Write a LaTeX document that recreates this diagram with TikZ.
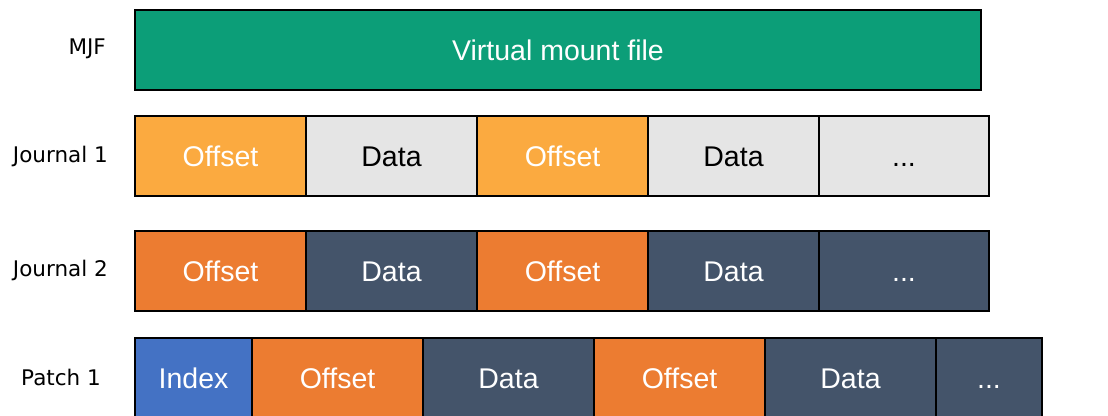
\documentclass[tikz,border=0pt]{standalone}
\usepackage{fontspec}
\setmainfont{Liberation Sans}
\newfontfamily\labelfont{DejaVu Sans}
\definecolor{mjfgreen}{HTML}{0C9E78}
\definecolor{lorange}{HTML}{FBAA40}
\definecolor{lgray}{HTML}{E5E5E5}
\definecolor{dorange}{HTML}{EC7C31}
\definecolor{slate}{HTML}{44546A}
\definecolor{iblue}{HTML}{4472C4}
\tikzset{
  cell/.style={draw=black, line width=2pt, anchor=north west, inner sep=0pt,
    minimum height=80pt, text height=20pt, text depth=0pt,
    font=\fontsize{28.5}{30}\selectfont},
  rowlabel/.style={anchor=east, inner sep=0pt, font=\labelfont\fontsize{21.5}{23}\selectfont},
  offA/.style={cell, fill=lorange, text=white},
  datA/.style={cell, fill=lgray, text=black},
  offB/.style={cell, fill=dorange, text=white},
  datB/.style={cell, fill=slate, text=white},
  idx/.style={cell, fill=iblue, text=white},
}
\begin{document}
\begin{tikzpicture}[x=1pt,y=-1pt]
\useasboundingbox (0,0) rectangle (1108,415);
% MJF
\node[cell, fill=mjfgreen, text=white, minimum width=846pt] (mjf) at (134,9) {Virtual mount file};
\node[rowlabel] (lmjf) at (106,49) {MJF};
% Journal 1
\node[offA, minimum width=171pt] (j1a) at (134,115) {Offset};
\node[datA, minimum width=171pt] (j1b) at (305,115) {Data};
\node[offA, minimum width=171pt] (j1c) at (476,115) {Offset};
\node[datA, minimum width=171pt] (j1d) at (647,115) {Data};
\node[datA, minimum width=170pt] (j1e) at (818,115) {...};
\node[rowlabel] (lj1) at (108,156) {Journal 1};
% Journal 2
\node[offB, minimum width=171pt] (j2a) at (134,230) {Offset};
\node[datB, minimum width=171pt] (j2b) at (305,230) {Data};
\node[offB, minimum width=171pt] (j2c) at (476,230) {Offset};
\node[datB, minimum width=171pt] (j2d) at (647,230) {Data};
\node[datB, minimum width=170pt] (j2e) at (818,230) {...};
\node[rowlabel] (lj2) at (108,270) {Journal 2};
% Patch 1
\node[idx, minimum width=117pt] (p1a) at (134,337) {Index};
\node[offB, minimum width=171pt] (p1b) at (251,337) {Offset};
\node[datB, minimum width=171pt] (p1c) at (422,337) {Data};
\node[offB, minimum width=171pt] (p1d) at (593,337) {Offset};
\node[datB, minimum width=171pt] (p1e) at (764,337) {Data};
\node[datB, minimum width=106pt] (p1f) at (935,337) {...};
\node[rowlabel] (lp1) at (101,377) {Patch 1};
\end{tikzpicture}
\end{document}
